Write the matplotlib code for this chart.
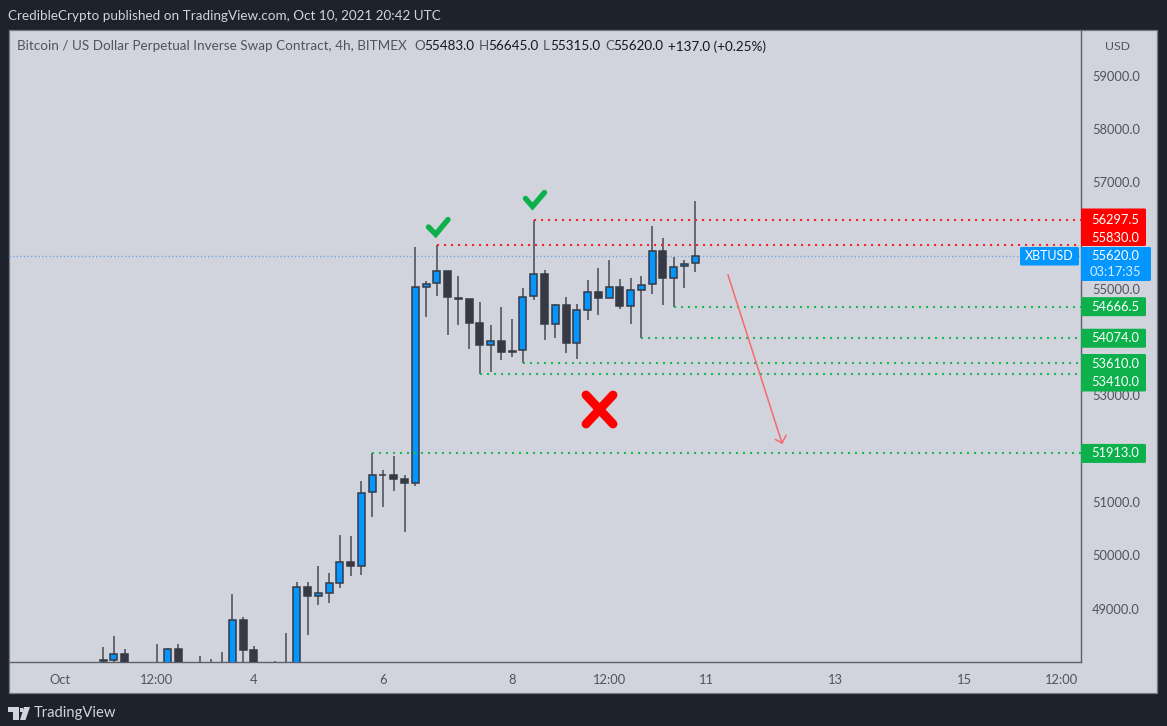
import datetime as dt
import matplotlib
matplotlib.use("Agg")
import matplotlib.pyplot as plt
from matplotlib.patches import Rectangle, FancyBboxPatch, Polygon

plt.rcParams['font.family'] = ['Lato', 'DejaVu Sans']

# ---- data: 4h candles starting 2021-10-01 16:00 ----
first_candle = dt.datetime(2021, 10, 1, 16)
opens = [48010, 48031, 48156, 47900, 47800, 47700, 47900, 48244, 47850, 47700, 47800, 47900,
         47950, 48794, 48218, 47900, 47850, 47900, 47980, 49407, 49238, 49294, 49488, 49876,
         49794, 51183, 51514, 51508, 51433, 51352, 55029, 55104, 55329, 54835, 54803, 54353,
         53947, 54015, 53834, 53847, 54866, 55285, 54347, 54697, 53978, 54603, 54941, 54822,
         55029, 54685, 54979, 55085, 55710, 55210, 55423, 55483]
highs = [48281, 48481, 48250, 47980, 47990, 48344, 48262, 48337, 47980, 48118, 48056, 48187,
         49282, 48838, 48293, 47990, 48018, 48544, 49494, 49494, 49801, 49669, 50389, 50370,
         51395, 51913, 51608, 51871, 51502, 55779, 55154, 55830, 55329, 55248, 54816, 54747,
         54322, 54660, 54434, 55016, 56297.5, 55354, 54722, 54841, 54722, 55160, 55385, 55541,
         55179, 55197, 55241, 56186, 55954, 55591, 55541, 56645]
lows = [47950, 47993, 47800, 47700, 47650, 47600, 47800, 47750, 47600, 47600, 47700, 47800,
        47900, 47950, 47800, 47750, 47800, 47850, 47900, 48506, 49063, 49107, 49388, 49619,
        49625, 50714, 50914, 51208, 50432, 51295, 54478, 54860, 54140, 54322, 53865, 53410,
        53434, 53659, 53722, 53610, 54785, 54040, 54072, 53790, 53678, 54409, 54503, 54822,
        54616, 54334, 54074, 54897, 54697, 54666.5, 55016, 55315]
closes = [48040, 48156, 47900, 47800, 47750, 47900, 48244, 47850, 47700, 47800, 47900, 47950,
          48794, 48225, 47900, 47850, 47900, 47980, 49407, 49238, 49294, 49476, 49876, 49794,
          51170, 51502, 51508, 51439, 51352, 55029, 55097, 55329, 54841, 54810, 54353, 53947,
          54015, 53822, 53822, 54853, 55285, 54347, 54697, 53978, 54597, 54941, 54828, 55029,
          54685, 54972, 55079, 55710, 55210, 55410, 55473, 55620]

price_ticks = [59000, 58000, 57000, 55000, 53000, 51000, 50000, 49000]
time_tick_days = [0, 1.5, 3, 5, 7, 8.5, 10, 12, 14, 15.5]
time_tick_labels = ['Oct', '12:00', '4', '6', '8', '12:00', '11', '13', '15', '12:00']

red_levels = [56297.5, 55830.0]
red_level_start = [40, 31]              # candle index where each level starts
green_levels = [54666.5, 54074.0, 53610.0, 53410.0, 51913.0]
green_level_start = [53, 50, 39, 35, 25]
last_price = 55620.0

# ---- colours ----
BG = '#1e222d'; PANEL = '#d1d4dc'; BLUE = '#0496ff'; DARK = '#363a45'; WICK = '#53555f'
TXT = '#50535e'; RED = '#ff0000'; GREEN = '#0cb14b'; ARROW = '#f7696e'

W, H = 1167, 726
fig = plt.figure(figsize=(W / 100, H / 100), dpi=100, facecolor=BG)

# overlay in image pixels, for the chart's frame and annotations
L, R, T, B = 9, 1081, 30, 662
PPP = 53.3 / 1000            # pixels per price unit
ymin = 48000
ymax = ymin + (B - T) / PPP
dx = 64.6                    # pixels per day
xmin = (L - 60) / dx
xmax = (R - 60) / dx

under = fig.add_axes([0, 0, 1, 1], zorder=0); under.set_xlim(0, W); under.set_ylim(H, 0); under.axis('off')
under.add_patch(Rectangle((L, T), 1157 - L, 693 - T, fc=PANEL, ec='#787b86', lw=0.9))

ax = fig.add_axes([L / W, 1 - B / H, (R - L) / W, (B - T) / H], zorder=1)
ax.patch.set_alpha(0)
ax.set_xlim(xmin, xmax); ax.set_ylim(ymin, ymax)
for s in ('top', 'left'):
    ax.spines[s].set_visible(False)
for s in ('right', 'bottom'):
    ax.spines[s].set_color('#5d606b'); ax.spines[s].set_linewidth(1.0)

ax.yaxis.tick_right()
ax.set_yticks(price_ticks)
ax.set_yticklabels([f'{p:.1f}' for p in price_ticks], color=TXT, fontsize=9.3)
ax.set_xticks(time_tick_days)
ax.set_xticklabels(time_tick_labels, color=TXT, fontsize=9.3)
ax.tick_params(axis='y', length=0, pad=8)
ax.tick_params(axis='x', length=0, pad=8.5)

days = [((first_candle + dt.timedelta(hours=4 * i)) - dt.datetime(2021, 10, 1)).total_seconds() / 86400
        for i in range(len(opens))]
width = 7.0 / dx
for d, o, h, l, c in zip(days, opens, highs, lows, closes):
    up = c >= o
    ax.vlines(d, l, h, color=WICK, lw=1.2, zorder=3)
    top, bot = max(o, c), min(o, c)
    ax.bar(d, max(top - bot, 8), bottom=bot, width=width, color=BLUE if up else DARK,
           edgecolor=DARK, linewidth=1.1, zorder=4)

ax.axhline(last_price, color='#6fa8e0', lw=1.0, ls=(0, (1, 1.6)), zorder=2)
for lev, st in zip(red_levels, red_level_start):
    ax.hlines(lev, days[st], xmax, color='#f5242c', lw=1.5, ls=(0, (1, 2.36)), zorder=5)
for lev, st in zip(green_levels, green_level_start):
    ax.hlines(lev, days[st], xmax, color='#1cb85a', lw=1.5, ls=(0, (1, 2.36)), zorder=5)

over = fig.add_axes([0, 0, 1, 1], zorder=2); over.set_xlim(0, W); over.set_ylim(H, 0); over.axis('off')
over.patch.set_alpha(0)


def py(price):
    return B - (price - ymin) * PPP


def flag(x0, y0, x1, y1, color, rounding=1.5):
    over.add_patch(FancyBboxPatch((x0 + rounding, y0 + rounding), x1 - x0 - 2 * rounding, y1 - y0 - 2 * rounding,
                                  boxstyle=f'round,pad={rounding},rounding_size={rounding}', fc=color, ec='none', zorder=6))


LX = 1115.5
FS = 9.3


def flag_text(y, s, color='white'):
    over.text(LX, y, s, color=color, fontsize=FS, ha='center', va='center', zorder=7)


# labels that would collide are pushed apart, as the price scale does
flag(1081, 208.5, 1146, 246, RED)
flag_text(py(red_levels[0]), f'{red_levels[0]:.1f}')
flag_text(237.5, f'{red_levels[1]:.1f}')
flag(1081, py(green_levels[0]) - 9.5, 1146, py(green_levels[0]) + 9.5, GREEN)
flag_text(py(green_levels[0]), f'{green_levels[0]:.1f}')
flag(1081, py(green_levels[1]) - 9.5, 1146, py(green_levels[1]) + 9.5, GREEN)
flag_text(py(green_levels[1]), f'{green_levels[1]:.1f}')
flag(1081, 354, 1146, 391.5, GREEN)
flag_text(363.5, f'{green_levels[2]:.1f}')
flag_text(382.5, f'{green_levels[3]:.1f}')
flag(1081, py(green_levels[4]) - 9.5, 1146, py(green_levels[4]) + 9.5, GREEN)
flag_text(py(green_levels[4]), f'{green_levels[4]:.1f}')
flag(1081, 247, 1151, 281, BLUE)
flag_text(py(last_price), f'{last_price:.1f}')
flag_text(271.5, '03:17:35', '#d8ecff')
flag(1020, 247, 1079, 265.5, BLUE)
over.text(1049.5, py(last_price), 'XBTUSD', color='white', fontsize=9.0, ha='center', va='center', zorder=7)

over.text(1118, 46, 'USD', color=TXT, fontsize=8.8, ha='center', va='center')

# annotations the author drew on the chart
for pts in ([(428.5, 227), (435.7, 234.3), (448, 219.5)], [(525.5, 198.5), (532.5, 206.5), (544.5, 192.5)]):
    over.plot(*zip(*pts), color=GREEN, lw=3.9, solid_capstyle='round', solid_joinstyle='miter')
over.plot([586, 613], [395, 424], color=RED, lw=6.4, solid_capstyle='round')
over.plot([613, 586], [395, 424], color=RED, lw=6.4, solid_capstyle='round')
over.plot([728, 782], [275, 443], color=ARROW, lw=1.1)
over.plot([775.5, 782, 786], [439.5, 443, 435.5], color=ARROW, lw=1.1)

# header
over.text(8, 16, 'CredibleCrypto published on TradingView.com, Oct 10, 2021 20:42 UTC',
          color='#d1d4dc', fontsize=9.75, va='center', ha='left')
over.text(17, 46.5, 'Bitcoin / US Dollar Perpetual Inverse Swap Contract, 4h, BITMEX', color=TXT,
          fontsize=9.7, va='center', ha='left')
for xp, lab, xv, val in [(414.5, 'O', 424, '55483.0'), (479, 'H', 488, '56645.0'),
                         (543, 'L', 550, '55315.0'), (605, 'C', 613, '55620.0')]:
    over.text(xp, 46.5, lab, color=TXT, fontsize=9.7, va='center', ha='left')
    over.text(xv, 46.5, val, color='#131722', fontsize=9.7, va='center', ha='left')
over.text(668, 46.5, '+137.0 (+0.25%)', color='#131722', fontsize=9.7, va='center', ha='left')

# footer logo
over.add_patch(Polygon([(8, 707), (19, 707), (19, 720), (13, 720), (13, 712), (8, 712)], fc='#d1d4dc', ec='none'))
over.add_patch(Polygon([(20, 708), (23, 708), (23, 711.5), (20, 711.5)], fc='#d1d4dc', ec='none'))
over.add_patch(Polygon([(24, 707), (30, 707), (25.5, 720), (20, 720)], fc='#d1d4dc', ec='none'))
over.text(34, 713.5, 'TradingView', color='#d1d4dc', fontsize=10.6, va='center', ha='left')

fig.savefig('out.png', dpi=100, facecolor=BG)
